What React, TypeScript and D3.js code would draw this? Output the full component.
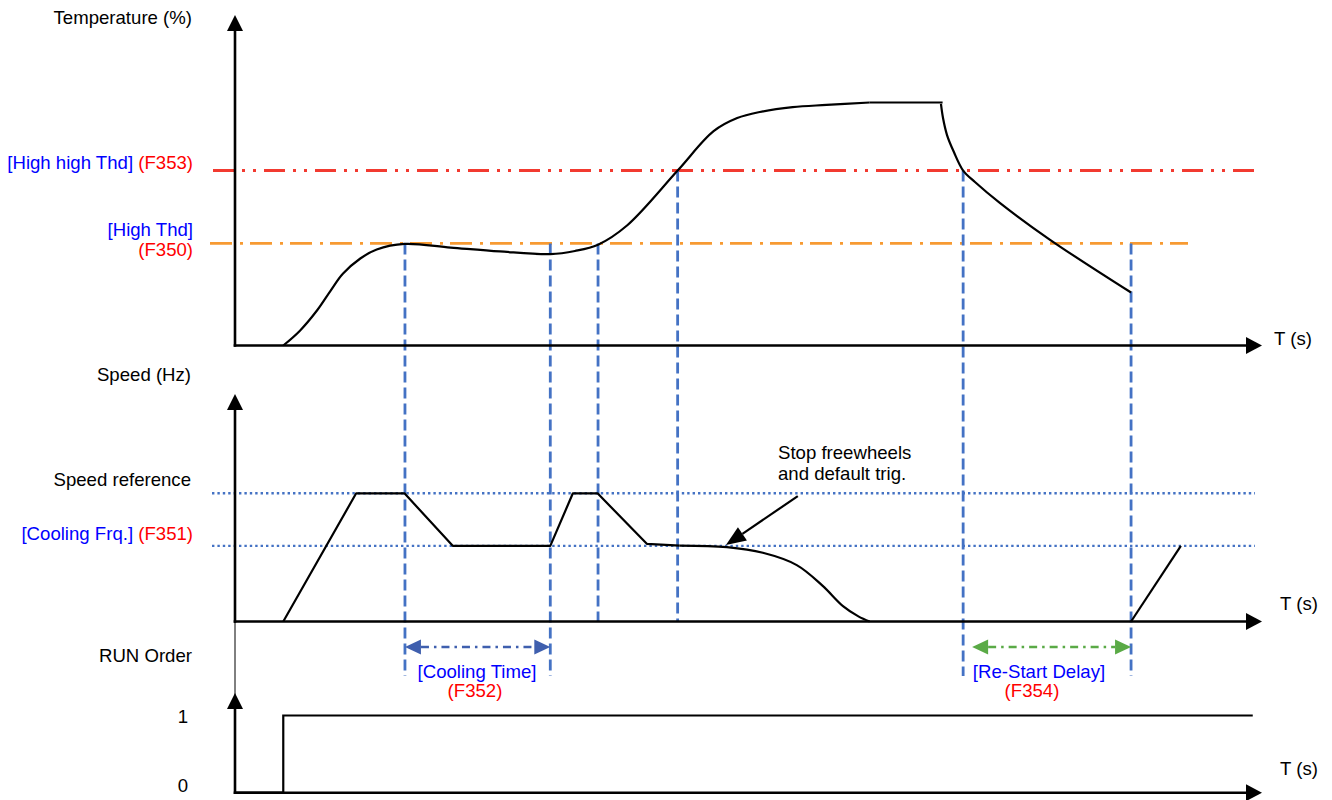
import React from "react";
import * as d3 from "d3";

const W = 1332;
const H = 800;

// ---------- data (time in s, temperature in %, speed in Hz, run order 0/1) ----------
const timeDomain: [number, number] = [0, 100];
const tempDomain: [number, number] = [0, 100];
const speedDomain: [number, number] = [0, 50];
const runDomain: [number, number] = [0, 1];

const highHighThd = 72; // F353
const highThd = 42; // F350
const speedReference = 50;
const coolingFrq = 29.5; // F351

const tempRise: [number, number][] = [
  [4.7, 0], [6.3, 6], [8.0, 14.5], [9.3, 22.5], [10.5, 29.5], [12.2, 35.8],
  [13.8, 39.5], [16.5, 41.8], [21.0, 40.3], [25.8, 38.7], [30.7, 37.6],
  [33.1, 38.9], [35.35, 41.5], [38.2, 49.5], [43.1, 72.0],
  [46.6, 88.2], [48.9, 93.6], [51.1, 96.1], [54.3, 98.1],
  [57.6, 99.0], [61.8, 100],
];
const tempPlateau: [number, number][] = [[61.8, 100], [68.9, 100]];
const tempFall: [number, number][] = [
  [68.74, 99.4], [68.94, 93.6], [69.33, 86.6], [70.0, 79.6], [70.9, 72.0],
  [72.05, 67.3], [74.5, 58.6], [79.4, 43.4], [87.25, 21.8],
];

const speedRamp: [number, number][] = [
  [4.7, 0], [11.8, 50], [16.5, 50], [21.2, 29.5], [30.7, 29.5], [32.9, 50],
  [35.3, 50], [40.1, 30.3], [43.3, 29.6],
];
const speedFreewheel: [number, number][] = [
  [43.3, 29.6], [47.9, 29.0], [51.4, 26.8], [54.7, 22.0], [57.2, 14.0],
  [59.2, 6.0], [60.7, 2.0], [61.8, 0],
];
const speedRestart: [number, number][] = [[87.25, 0], [92.1, 29.5]];

const runOrder: [number, number][] = [[0, 0], [4.7, 0], [4.7, 1], [99.1, 1]];

// event times (s)
const tHigh1 = 16.55;
const tCoolEnd = 30.7;
const tHigh2 = 35.35;
const tHighHigh = 43.1;
const tHighHighDown = 70.9;
const tRestart = 87.25;

// annotation
const noteLines = ["Stop freewheels", "and default trig."];
const noteFrom: [number, number] = [54.8, 48.9];
const noteTo: [number, number] = [47.8, 29.8];

// ---------- layout ----------
const X0 = 235;
const X1 = 1262;
const FONT = "'Liberation Sans', Arial, Helvetica, sans-serif";
const FS = 18.6;
const BLUE_TXT = "#0000ff";
const RED_TXT = "#ff0000";
const DASH_BLUE = "#4472c4";

const x = d3.scaleLinear().domain(timeDomain).range([X0, X1]);
const yT = d3.scaleLinear().domain(tempDomain).range([345.5, 102.5]);
const yS = d3.scaleLinear().domain(speedDomain).range([621.5, 493.3]);
const yR = d3.scaleLinear().domain(runDomain).range([792.7, 715.5]);

const smoothT = d3.line<[number, number]>().x((d) => x(d[0])).y((d) => yT(d[1])).curve(d3.curveCatmullRom.alpha(0.5));
const straightT = d3.line<[number, number]>().x((d) => x(d[0])).y((d) => yT(d[1]));
const straightS = d3.line<[number, number]>().x((d) => x(d[0])).y((d) => yS(d[1]));
const smoothS = d3.line<[number, number]>().x((d) => x(d[0])).y((d) => yS(d[1])).curve(d3.curveCatmullRom.alpha(0.5));
const straightR = d3.line<[number, number]>().x((d) => x(d[0])).y((d) => yR(d[1]));

function UpArrow({ cx, top, bottom, thin }: { cx: number; top: number; bottom: number; thin?: boolean }) {
  return (
    <g>
      <line x1={cx} x2={cx} y1={bottom} y2={top + 14} stroke="#000" strokeWidth={thin ? 1 : 2.6} />
      <polygon points={`${cx},${top} ${cx - 8},${top + 16} ${cx + 8},${top + 16}`} fill="#000" />
    </g>
  );
}

function RightArrow({ y, left, right }: { y: number; left: number; right: number }) {
  return (
    <g>
      <line x1={left} x2={right - 14} y1={y} y2={y} stroke="#000" strokeWidth={2.6} />
      <polygon points={`${right},${y} ${right - 16},${y - 8.5} ${right - 16},${y + 8.5}`} fill="#000" />
    </g>
  );
}

function DoubleArrow({ x1, x2, y, color, dash }: { x1: number; x2: number; y: number; color: string; dash: string }) {
  const L = 16;
  const h = 7.5;
  return (
    <g>
      <line x1={x1 + L} x2={x2 - L} y1={y} y2={y} stroke={color} strokeWidth={2.4} strokeDasharray={dash} />
      <polygon points={`${x1},${y} ${x1 + L},${y - h} ${x1 + L},${y + h}`} fill={color} />
      <polygon points={`${x2},${y} ${x2 - L},${y - h} ${x2 - L},${y + h}`} fill={color} />
    </g>
  );
}

export default function App() {
  const bracketBottom = 676;
  const verticals = [
    { t: tHigh1, top: yT(highThd), bottom: bracketBottom },
    { t: tCoolEnd, top: yT(highThd), bottom: bracketBottom },
    { t: tHigh2, top: yT(highThd), bottom: yS(0) },
    { t: tHighHigh, top: yT(highHighThd), bottom: yS(0) },
    { t: tHighHighDown, top: yT(highHighThd), bottom: bracketBottom },
    { t: tRestart, top: yT(highThd), bottom: bracketBottom },
  ];

  // annotation arrow geometry
  const ax1 = x(noteFrom[0]), ay1 = yS(noteFrom[1]);
  const ax2 = x(noteTo[0]), ay2 = yS(noteTo[1]);
  const ang = Math.atan2(ay2 - ay1, ax2 - ax1);
  const hl = 20, hw = 8;
  const bx = ax2 - hl * Math.cos(ang), by = ay2 - hl * Math.sin(ang);
  const head = `${ax2},${ay2} ${bx + hw * Math.sin(ang)},${by - hw * Math.cos(ang)} ${bx - hw * Math.sin(ang)},${by + hw * Math.cos(ang)}`;

  return (
    <svg
      width={W}
      height={H}
      viewBox={`0 0 ${W} ${H}`}
      style={{ position: "absolute", left: 0, top: 0, background: "#fff" }}
      fontFamily={FONT}
      fontSize={FS}
    >
      <rect x={0} y={0} width={W} height={H} fill="#fff" />

      {/* threshold lines */}
      <line x1={213} x2={1258} y1={yT(highHighThd)} y2={yT(highHighThd)} stroke="#f23a30" strokeWidth={3} strokeDasharray="21 8 3 8 3 8" />
      <line x1={210} x2={1188} y1={yT(highThd)} y2={yT(highThd)} stroke="#f79a32" strokeWidth={2.8} strokeDasharray="22 8 3 7" />

      {/* speed reference lines */}
      <line x1={212} x2={1255} y1={yS(speedReference)} y2={yS(speedReference)} stroke={DASH_BLUE} strokeWidth={2.4} strokeDasharray="2.4 3" />
      <line x1={212} x2={1255} y1={yS(coolingFrq)} y2={yS(coolingFrq)} stroke={DASH_BLUE} strokeWidth={2.4} strokeDasharray="2.4 3" />

      {/* vertical dashed markers */}
      {verticals.map((v, i) => (
        <line key={i} x1={x(v.t)} x2={x(v.t)} y1={v.top} y2={v.bottom} stroke={DASH_BLUE} strokeWidth={2.8} strokeDasharray="11 5" />
      ))}

      {/* axes */}
      <UpArrow cx={X0} top={15} bottom={346.8} />
      <RightArrow y={345.5} left={X0 - 1.3} right={1262} />
      <UpArrow cx={X0} top={394} bottom={622.8} />
      <RightArrow y={621.5} left={X0 - 1.3} right={1262} />
      <line x1={X0} x2={X0} y1={621.5} y2={700} stroke="#000" strokeWidth={1} />
      <UpArrow cx={X0} top={693} bottom={794} />
      <RightArrow y={792.7} left={X0 - 1.3} right={1262} />

      {/* temperature */}
      <path d={smoothT(tempRise) ?? ""} fill="none" stroke="#000" strokeWidth={2.2} />
      <path d={straightT(tempPlateau) ?? ""} fill="none" stroke="#000" strokeWidth={2.2} />
      <path d={smoothT(tempFall) ?? ""} fill="none" stroke="#000" strokeWidth={2.2} />

      {/* speed */}
      <path d={straightS(speedRamp) ?? ""} fill="none" stroke="#000" strokeWidth={2.2} strokeLinejoin="round" />
      <path d={smoothS(speedFreewheel) ?? ""} fill="none" stroke="#000" strokeWidth={2.2} />
      <path d={straightS(speedRestart) ?? ""} fill="none" stroke="#000" strokeWidth={2.2} />

      {/* run order */}
      <path d={straightR(runOrder) ?? ""} fill="none" stroke="#000" strokeWidth={2.2} />

      {/* annotation */}
      <line x1={ax1} y1={ay1} x2={bx} y2={by} stroke="#000" strokeWidth={2.2} />
      <polygon points={head} fill="#000" />
      <text x={778} y={459} fill="#000">{noteLines[0]}</text>
      <text x={778} y={480} fill="#000">{noteLines[1]}</text>

      {/* interval arrows */}
      <DoubleArrow x1={x(tHigh1)} x2={x(tCoolEnd)} y={647} color="#3f5fae" dash="8 5 2.5 5" />
      <DoubleArrow x1={x(tHighHighDown) + 9} x2={x(tRestart)} y={647} color="#5aaa46" dash="8 5 2.5 5" />

      {/* left labels */}
      <text x={192} y={24} textAnchor="end" fill="#000">Temperature (%)</text>
      <text x={193} y={169} textAnchor="end">
        <tspan fill={BLUE_TXT}>[High high Thd] </tspan>
        <tspan fill={RED_TXT}>(F353)</tspan>
      </text>
      <text x={193} y={236} textAnchor="end" fill={BLUE_TXT}>[High Thd]</text>
      <text x={193} y={256} textAnchor="end" fill={RED_TXT}>(F350)</text>
      <text x={191} y={381} textAnchor="end" fill="#000">Speed (Hz)</text>
      <text x={191} y={486} textAnchor="end" fill="#000">Speed reference</text>
      <text x={193} y={540} textAnchor="end">
        <tspan fill={BLUE_TXT}>[Cooling Frq.] </tspan>
        <tspan fill={RED_TXT}>(F351)</tspan>
      </text>
      <text x={192} y={662} textAnchor="end" fill="#000">RUN Order</text>
      <text x={188} y={723} textAnchor="end" fill="#000">1</text>
      <text x={188} y={792} textAnchor="end" fill="#000">0</text>

      {/* time axis labels */}
      <text x={1274} y={345} fill="#000">T (s)</text>
      <text x={1280} y={610} fill="#000">T (s)</text>
      <text x={1280} y={775} fill="#000">T (s)</text>

      {/* interval labels */}
      <text x={477} y={678} textAnchor="middle" fill={BLUE_TXT}>[Cooling Time]</text>
      <text x={475} y={697} textAnchor="middle" fill={RED_TXT}>(F352)</text>
      <text x={1039} y={678} textAnchor="middle" fill={BLUE_TXT}>[Re-Start Delay]</text>
      <text x={1032} y={697} textAnchor="middle" fill={RED_TXT}>(F354)</text>
    </svg>
  );
}
